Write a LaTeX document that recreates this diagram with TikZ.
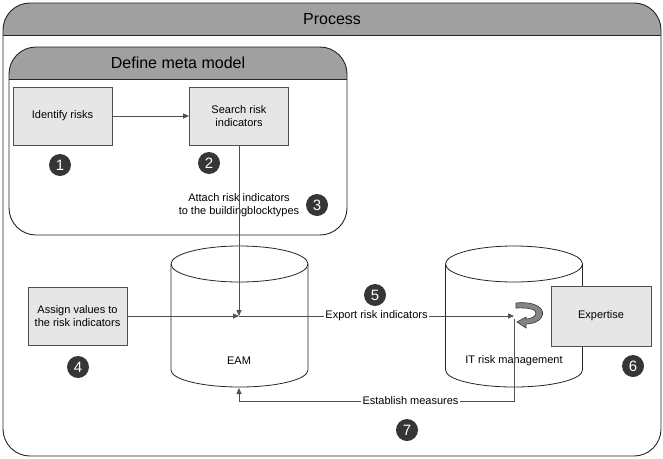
\documentclass[tikz,border=0pt]{standalone}
\usepackage{fontspec}
\setmainfont{Liberation Sans}
\usetikzlibrary{arrows.meta}
\definecolor{headgray}{HTML}{A0A0A0}
\definecolor{boxgray}{HTML}{E6E6E6}
\definecolor{dotgray}{HTML}{363636}
\definecolor{linegray}{HTML}{505050}
\definecolor{turngray}{HTML}{858585}

\begin{document}
\begin{tikzpicture}[x=1pt, y=-1pt, >={Triangle[length=6pt,width=5pt]},
		every node/.style={font=\fontsize{11}{13}\selectfont},
		stepbox/.style={draw=linegray, fill=boxgray, line width=0.8pt, minimum width=99pt, minimum height=58pt, align=center, inner sep=2pt},
		numdot/.style={circle, fill=dotgray, text=white, minimum size=22pt, inner sep=0pt, font=\fontsize{15}{15}\selectfont},
		conn/.style={->, draw=linegray, line width=0.8pt},
		wire/.style={draw=linegray, line width=0.8pt},
		textbg/.style={fill=white, inner sep=1pt},
		lanebox/.style={draw=black!85, line width=0.9pt, rounded corners=27pt},
		lanetitle/.style={font=\fontsize{16}{19}\selectfont},
		drum/.style={draw=black!85, line width=0.8pt}]
	\useasboundingbox (0,0) rectangle (663,458);
	
	% 外框 Process
	\fill[white, rounded corners=27pt] (3,3) rectangle (661,456);
	\begin{scope}
		\clip (0,0) rectangle (663,35);
		\fill[headgray, rounded corners=27pt] (3,3) rectangle (661,456);
	\end{scope}
	\draw[lanebox] (3,3) rectangle (661,456);
	\draw[black!85, line width=0.9pt] (3,35) -- (661,35);
	\node[lanetitle] (process) at (332,19) {Process};
	
	% 内框 Define meta model
	\begin{scope}
		\clip (0,0) rectangle (663,79);
		\fill[headgray, rounded corners=27pt] (9,47) rectangle (347,235);
	\end{scope}
	\draw[lanebox] (9,47) rectangle (347,235);
	\draw[black!85, line width=0.9pt] (9,79) -- (347,79);
	\node[lanetitle] (metamodel) at (178,63) {Define meta model};
	
	% 数据库
	\draw[drum, fill=white] (171,264) -- (171,370) arc[start angle=180, end angle=360, x radius=68.5pt, y radius=17pt] -- (308,264);
	\draw[drum] (239.5,264) ellipse[x radius=68.5pt, y radius=18pt];
	\node (eamlabel) at (239,361) {EAM};
	\draw[drum, fill=white] (445.5,264) -- (445.5,370) arc[start angle=180, end angle=360, x radius=68.5pt, y radius=17pt] -- (582.5,264);
	\draw[drum] (514,264) ellipse[x radius=68.5pt, y radius=18pt];
	\node (itlabel) at (514,361) {IT risk management};
	
	% 步骤
	\node[stepbox] (identify) at (62.5,116) {Identify risks};
	\node[stepbox] (search) at (239,116) {Search risk\\indicators};
	\node[stepbox] (assign) at (77.5,316) {Assign values to\\the risk indicators};
	\node[stepbox, minimum width=100pt, minimum height=60pt] (expertise) at (601,316) {Expertise};
	\node[align=center] (attach) at (239,205) {Attach risk indicators\\to the buildingblocktypes};
	
	% 连线
	\coordinate (eam) at (239,316);
	\coordinate (eambot) at (239,388);
	\coordinate (itrm) at (514,316);
	\coordinate (itout) at (514,319);
	\draw[conn] (identify) -- (search);
	\draw[conn] (search) -- (eam);
	\draw[conn] (assign) -- (eam);
	\draw[conn] (eam) -- node[textbg] (export) {Export risk indicators} (itrm);
	\node[textbg] (measures) at (410.5,401) {Establish measures};
	\draw[wire] (itout) |- (measures);
	\draw[conn] (measures) -| (eambot);
	
	% 旋转箭头
	\filldraw[fill=turngray, draw=black!80, line width=0.6pt] (516,303) .. controls (536,301) and (547,309) .. (541,318) .. controls (538,322) and (532,324) .. (526,324) -- (526,328) -- (517,322) -- (526,317) -- (526,319) .. controls (532,319) and (536,316) .. (536,313) .. controls (536,309) and (528,307.5) .. (516,308) -- cycle;
	
	% 编号
	\node[numdot] (n1) at (60,165) {1};
	\node[numdot] (n2) at (209,163) {2};
	\node[numdot] (n3) at (317,205) {3};
	\node[numdot] (n4) at (78,367) {4};
	\node[numdot] (n5) at (375,295) {5};
	\node[numdot] (n6) at (633,366) {6};
	\node[numdot] (n7) at (407,430) {7};
\end{tikzpicture}
\end{document}
